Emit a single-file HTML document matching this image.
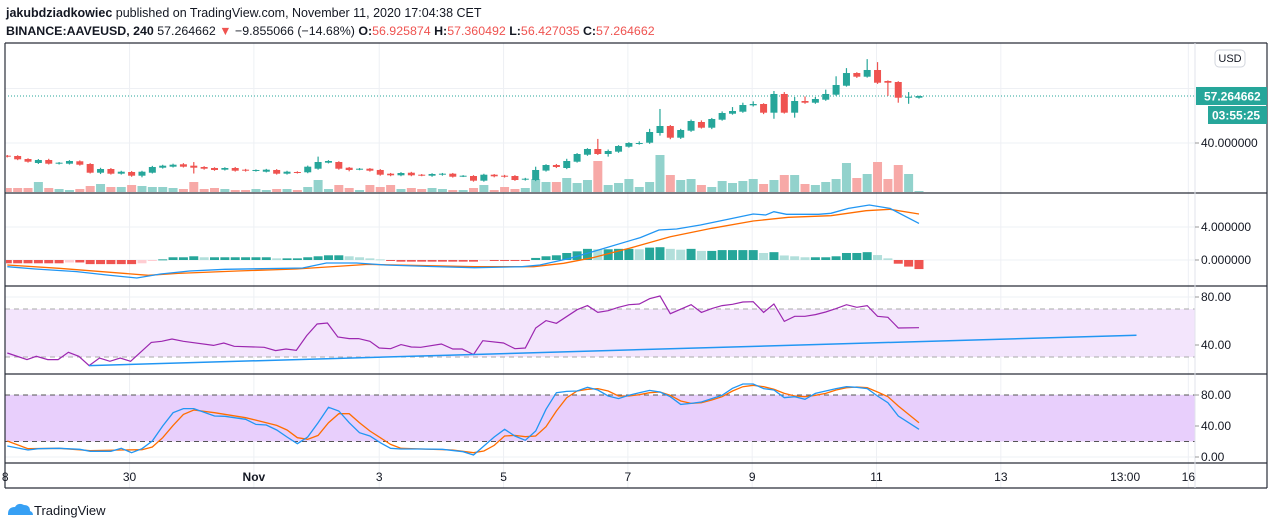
<!DOCTYPE html>
<html><head><meta charset="utf-8"><style>
html,body{margin:0;padding:0;background:#fff;width:1274px;height:529px;overflow:hidden}
svg{display:block;font-family:"Liberation Sans",sans-serif}
</style></head><body>
<svg id="chart" width="1274" height="529" viewBox="0 0 1274 529" xmlns="http://www.w3.org/2000/svg">
<defs><clipPath id="plotClip"><rect x="6" y="43" width="1189" height="420"/></clipPath></defs>
<text x="6" y="17" font-size="12.5" fill="#131722"><tspan font-weight="bold">jakubdziadkowiec</tspan> published on TradingView.com, November 11, 2020 17:04:38 CET</text>
<text x="6" y="35" font-size="12.4" fill="#131722"><tspan font-weight="bold">BINANCE:AAVEUSD, 240</tspan> 57.264662 <tspan fill="#ef5350">▼</tspan> −9.855066 (−14.68%) <tspan font-weight="bold">O:</tspan><tspan fill="#ef5350">56.925874</tspan> <tspan font-weight="bold">H:</tspan><tspan fill="#ef5350">57.360492</tspan> <tspan font-weight="bold">L:</tspan><tspan fill="#ef5350">56.427035</tspan> <tspan font-weight="bold">C:</tspan><tspan fill="#ef5350">57.264662</tspan></text>
<g id="grid"></g>
<g id="bands"></g>
<g id="marks" clip-path="url(#plotClip)"></g>
<g id="frame"></g>
<g id="axes"></g>
<g>
<path d="M8 514 q0-7 7-7 q3-5 9-2 q6 0 6 6 q3 1 3 4 l-25 0 z" fill="#2196f3" opacity="0.9"/>
<text x="34" y="515" font-size="13" fill="#131722">TradingView</text>
</g>
</svg>
<script>
// ===== data =====
const opens=[35.34,35.23,34.12,32.66,33.76,32.40,32.40,33.28,32.29,29.09,30.45,28.73,29.35,27.99,29.09,30.93,31.30,32.18,31.67,31.19,30.82,30.20,30.82,30.20,29.83,29.46,30.09,28.73,29.35,29.24,30.56,32.77,33.02,30.93,30.32,30.56,30.09,28.73,28.14,29.09,28.36,27.99,28.36,28.73,27.77,27.88,26.16,28.36,27.99,27.88,26.55,26.41,29.87,31.92,30.82,33.13,35.70,37.80,35.96,36.81,38.64,39.74,40.11,43.67,46.24,41.95,44.52,47.71,45.62,48.56,50.76,51.49,53.84,54.32,51.13,58.00,51.13,55.42,54.80,55.90,57.74,61.04,65.70,64.35,66.81,62.77,62.40,56.63,56.63];
const closes=[34.97,34.01,33.13,33.76,32.40,32.77,33.39,32.03,29.09,30.45,28.73,29.46,27.99,29.46,31.19,31.67,32.03,31.30,30.93,30.56,30.09,30.82,29.83,29.83,30.09,30.20,28.73,29.46,29.09,31.30,33.02,33.39,30.56,30.09,30.56,29.83,28.36,28.14,28.98,28.14,28.14,28.62,28.73,27.62,27.99,26.16,28.36,27.77,27.62,26.41,26.89,30.09,31.92,31.19,33.39,35.96,37.80,35.96,37.06,38.90,40.00,40.00,44.04,46.24,41.95,44.77,48.08,45.62,48.81,51.02,51.75,53.95,54.32,51.13,58.00,51.13,55.42,54.80,56.16,58.00,61.30,65.70,64.35,66.81,62.14,62.14,56.63,57.00,57.26];
const highs=[35.6,35.5,34.4,34.1,34.2,33.0,33.7,33.6,32.6,30.9,30.8,29.8,29.7,29.8,31.6,32.0,32.4,32.6,33.0,31.5,31.1,31.1,31.2,30.5,30.3,30.5,30.4,29.8,29.6,31.7,35.0,33.7,33.3,31.2,30.8,30.8,30.4,29.0,29.3,29.4,28.6,28.9,29.0,29.0,28.2,28.2,28.7,28.6,28.3,28.2,27.2,31.3,32.2,32.3,34.2,36.3,38.1,41.5,37.6,39.2,40.3,40.6,45.2,52.5,46.6,45.2,48.6,48.3,49.2,51.6,53.2,54.8,55.3,54.6,59.1,58.7,56.9,57.1,56.9,59.6,64.5,67.5,66.0,70.8,69.7,63.0,62.7,58.7,57.4];
const lows=[34.7,33.7,32.8,32.3,32.1,32.1,32.1,31.7,28.8,28.6,28.4,28.4,27.6,27.4,28.8,30.6,31.0,31.0,28.8,30.2,29.8,29.9,29.5,29.5,29.5,29.2,28.4,28.4,28.8,28.9,30.2,32.5,30.2,29.6,30.0,29.5,28.0,27.8,27.8,27.8,27.8,27.6,28.0,27.3,27.5,25.8,25.8,27.4,27.3,26.1,26.2,26.0,29.5,30.8,30.4,32.8,35.3,35.6,35.0,36.4,38.3,39.4,39.7,42.7,41.4,41.5,44.1,45.3,45.1,48.2,50.4,51.1,53.4,50.6,48.9,50.8,49.3,54.4,54.4,55.5,57.3,60.7,63.9,64.0,61.7,57.3,54.8,54.4,56.3];
const volumes=[4,4,4,10,4,3,2,3,6,8,5,5,7,6,5,5,4,3,10,3,4,3,2,2,3,2,3,3,2,5,12,3,7,4,2,7,5,7,3,4,3,4,3,2,2,4,7,2,5,3,4,13,10,10,14,9,12,31,7,9,13,5,10,37,17,12,13,7,5,11,9,11,13,8,12,17,17,8,7,10,13,29,14,18,30,13,27,18,1];
const macdIdx=[0,2.7,6.7,9.6,12.5,14.8,17.6,21,28.5,30.8,33.7,36.5,40.5,45.1,49.7,51.4,54.3,56.5,61.1,62.9,64.6,66.9,69.7,72,73.2,74,75.2,78.3,79.5,81.2,83.2,85.2,88];
const macdVal=[-0.81,-1.09,-1.41,-1.82,-2.18,-1.70,-1.33,-1.13,-0.97,-0.36,-0.36,-0.61,-0.77,-0.93,-0.81,-0.61,0.20,1.01,2.71,3.64,3.76,4.24,4.97,5.58,5.45,5.86,5.54,5.54,5.66,6.26,6.67,6.26,4.44];
const signalIdx=[0,5,13.6,16.5,22.2,27.9,34.8,39.4,45.1,50.8,53.7,56.5,60,64,68,72,75.4,79.5,82.9,85.2,88];
const signalVal=[-0.61,-1.01,-1.86,-1.62,-1.33,-1.09,-0.53,-0.65,-0.81,-0.81,-0.40,0.28,1.41,2.83,3.84,4.73,5.17,5.37,5.98,6.14,5.58];
const histVal=[-0.4,-0.4,-0.4,-0.4,-0.4,-0.4,-0.3,-0.3,-0.5,-0.5,-0.5,-0.5,-0.5,-0.4,-0.1,0.08,0.33,0.33,0.45,0.33,0.33,0.33,0.33,0.33,0.33,0.33,0.2,0.2,0.2,0.33,0.45,0.57,0.57,0.45,0.33,0.2,0.08,-0.1,-0.2,-0.2,-0.2,-0.2,-0.2,-0.2,-0.2,-0.2,-0.1,-0.1,-0.1,-0.1,-0.1,0.25,0.45,0.57,0.85,1.05,1.35,1.3,1.3,1.35,1.35,1.3,1.5,1.55,1.35,1.25,1.35,1.1,1.1,1.2,1.2,1.2,1.2,0.85,0.95,0.55,0.45,0.33,0.33,0.33,0.45,0.85,0.85,0.95,0.6,0.2,-0.45,-0.8,-1.1];
const rsiIdx=[0,1.9,2.8,3.9,4.9,5.9,6.9,7.9,8.9,9.9,10.9,11.9,13.9,14.9,15.9,17,19.9,20.9,21.9,24.8,25.9,26.9,27.9,28.9,29.9,30.9,31.9,33,33.9,35,35.9,37,38,39,39.9,41.9,43,43.9,45,45.9,47.9,49,50,51,52,53,55,56,57,58,59,60,61,62,63,64,66,67,68,69,70,71,72,73,74,75,76,77,78,79,80,81,82,83,84,85,86,88];
const rsiVal=[33.3,27.8,30.6,27.8,27.8,33.9,30.6,22.8,29.2,26.4,29.2,26.4,42.2,43.1,45.0,43.1,39.7,41.7,38.9,38.1,35.3,36.7,35.6,47.8,57.5,58.3,46.7,45.3,45.3,43.1,37.5,36.9,40.3,38.3,38.1,40.8,36.7,36.7,32.0,43.6,41.7,36.9,37.5,54.2,60.3,58.1,69.4,72.8,67.2,68.6,71.4,73.6,74.2,78.6,80.8,66.1,73.6,67.2,70.3,72.8,73.9,75.8,76.1,67.2,74.2,59.7,63.9,63.9,65.3,67.5,70.3,73.6,71.4,72.8,63.9,63.1,54.2,54.4];
const trendIdx=[7.9,109];
const trendVal=[22.8,48.1];
const kIdx=[0,2,3,5,7,8,10,11,12,13,14,15,16,17,18,20,21,23,24,25,26,27,28,29,30,31,32,33,34,35,36,37,38,40,42,44,45,46,47,48,49,50,51,52,53,54,55,56,57,58,59,60,61,62,63,64,65,66,67,68,69,70,71,72,73,74,75,76,77,78,79,80,81,82,83,84,85,86,88];
const kVal=[14.2,9.0,10.7,11.2,9.9,7.3,7.3,11.2,5.6,10.7,20.6,40.0,57.2,62.4,62.4,52.9,52.5,48.6,42.1,41.3,34.8,25.8,17.2,25.8,44.3,64.1,59.3,44.3,31.4,27.1,18.5,11.2,10.3,10.3,9.9,6.9,2.6,14.2,25.8,35.7,27.1,21.5,33.5,61.5,83.0,84.7,85.1,89.9,86.4,78.7,75.3,79.6,83.0,86.0,83.9,77.8,67.9,69.2,71.0,75.3,79.6,88.6,94.2,94.2,88.2,86.4,76.5,77.8,74.4,82.1,85.1,88.2,90.7,89.9,88.2,78.7,70.1,52.9,35.7];
const dIdx=[0,2,5,8,11,13,14,15,16,17,18,20,23,25,26,27,28,29,30,31,32,33,34,35,36,37,38,40,43,45,46,47,48,49,50,51,52,53,54,55,56,57,58,59,60,61,62,63,64,65,66,67,68,69,70,71,72,73,74,75,76,77,78,79,80,81,82,83,84,85,86,88];
const dVal=[20.6,10.7,11.2,8.2,9.0,9.4,12.9,24.9,40.8,55.0,60.6,57.2,50.7,44.3,40.8,34.8,24.9,22.8,27.9,44.3,55.9,55.9,44.3,33.5,24.9,16.3,11.2,10.3,9.0,5.6,7.7,15.0,27.1,27.9,26.2,27.1,39.1,59.3,76.5,85.1,87.3,88.2,85.1,78.7,78.7,80.4,83.0,83.9,79.6,72.2,69.2,70.1,73.5,77.8,85.1,90.7,92.5,90.7,87.3,82.1,78.7,77.8,79.6,82.1,86.4,89.4,90.3,89.4,83.9,77.8,65.8,44.3];
const dayLabels=["8","30","Nov","3","5","7","9","11","13","13:00","16"];
const dayLabelIdx=[-0.2,11.8,23.8,35.9,47.9,59.9,71.9,83.9,95.9,107.9,114];
const priceTicks=[40,60];
const macdTicks=[0,4];
const rsiTicks=[40,80];
const stochTicks=[0,40,80];
const lastPrice=57.264662;

// ===== scales =====
const X0=7.3, STEP=10.36;
const xs=i=>X0+i*STEP;
const yPrice=p=>143-(p-40)*2.723;
const yMacd=v=>260-v*8.25;
const yRsi=v=>345-(v-40)*1.2;
const yStoch=v=>457-v*0.775;
const yVolBase=192;

const NS="http://www.w3.org/2000/svg";
function mk(tag,parent,attrs){const e=document.createElementNS(NS,tag);for(const k in attrs)e.setAttribute(k,attrs[k]);parent.appendChild(e);return e;}
const grid=document.getElementById('grid'),bands=document.getElementById('bands'),marks=document.getElementById('marks'),frame=document.getElementById('frame'),axes=document.getElementById('axes');
const L=5,R=1195,RR=1267;

// grid lines
dayLabelIdx.forEach((d,k)=>{if(k===0||k===9)return;const gl=mk('line',grid,{x1:xs(d),x2:xs(d),y1:43,y2:488,stroke:'#eef0f4','stroke-width':1});

});
function hgrid(v,f){const gl=mk('line',grid,{x1:L,x2:R,y1:f(v),y2:f(v),stroke:'#eef0f4','stroke-width':1});

}
priceTicks.forEach(v=>hgrid(v,yPrice));macdTicks.forEach(v=>hgrid(v,yMacd));rsiTicks.forEach(v=>hgrid(v,yRsi));stochTicks.forEach(v=>hgrid(v,yStoch));

// bands
const rb=mk('rect',bands,{x:L,y:yRsi(70),width:R-L,height:yRsi(30)-yRsi(70),fill:'#f3e5fc'});


[70,30].forEach(v=>{const l=mk('line',bands,{x1:L,x2:R,y1:yRsi(v),y2:yRsi(v),stroke:'#aaa','stroke-dasharray':'5,4'});

});
const sb=mk('rect',bands,{x:L,y:yStoch(80),width:R-L,height:yStoch(20)-yStoch(80),fill:'#e8cffc'});


[80,20].forEach(v=>{const l=mk('line',bands,{x1:L,x2:R,y1:yStoch(v),y2:yStoch(v),stroke:'#555','stroke-dasharray':'5,4'});

});

// volume
volumes.forEach((v,i)=>{const up=closes[i]>=opens[i];const r=mk('rect',marks,{x:xs(i)-4.5,y:yVolBase-v,width:9,height:v,fill:up?'#92d2cc':'#f7a9a7'});

});
// last price line
const lp=mk('line',marks,{x1:L,x2:R,y1:yPrice(lastPrice),y2:yPrice(lastPrice),stroke:'#26a69a','stroke-dasharray':'1,2'});


// candles
opens.forEach((o,i)=>{const c=closes[i];const col=c>=o?'#26a69a':'#ef5350';const x=xs(i);
const w=mk('line',marks,{x1:x,x2:x,y1:yPrice(highs[i]),y2:yPrice(lows[i]),stroke:col,'stroke-width':1.2});


const top=yPrice(Math.max(o,c)),bot=yPrice(Math.min(o,c));
const b=mk('rect',marks,{x:x-3.5,y:top,width:7,height:Math.max(1,bot-top),fill:col});

});

// MACD histogram
histVal.forEach((v,i)=>{const prev=i>0?histVal[i-1]:v;let col;if(v>=0)col=v>=prev?'#26a69a':'#b2dfdb';else col=v<=prev?'#ef5350':'#ffcdd2';
const y0=yMacd(0),y1=yMacd(v);
const r=mk('rect',marks,{x:xs(i)-4.5,y:Math.min(y0,y1),width:9,height:Math.max(1,Math.abs(y1-y0)),fill:col});

});
function line(idx,val,f,col,name,w){const d=idx.map((i,k)=>(k?'L':'M')+xs(i).toFixed(1)+' '+f(val[k]).toFixed(1)).join(' ');
const p=mk('path',marks,{d:d,fill:'none',stroke:col,'stroke-width':w||1.3});

}
line(signalIdx,signalVal,yMacd,'#ff6d00','macd-signal-line');
line(macdIdx,macdVal,yMacd,'#2196f3','macd-line');
line(rsiIdx,rsiVal,yRsi,'#9c27b0','rsi-line',1.2);
line(trendIdx,trendVal,yRsi,'#2196f3','rsi-trendline',1.5);
line(dIdx,dVal,yStoch,'#ff6d00','stoch-d-line');
line(kIdx,kVal,yStoch,'#2196f3','stoch-k-line');

// frame
[[L,43,RR,43],[L,193,RR,193],[L,286,RR,286],[L,374,RR,374],[L,463,RR,463],[L,488,RR,488],[L,43,L,488],[RR,43,RR,488]].forEach(a=>{const l=mk('line',frame,{x1:a[0],y1:a[1],x2:a[2],y2:a[3],stroke:'#2a2e39','stroke-width':1.2});

});
const sep=mk('line',frame,{x1:R,y1:43,x2:R,y2:488,stroke:'#e0e3eb','stroke-width':1});



// axis labels
function ylab(txt,y,name){const t=mk('text',axes,{x:1201,y:y+4,'font-size':12,fill:'#131722'});t.textContent=txt;


const tk=mk('line',axes,{x1:R,x2:R+4,y1:y,y2:y,stroke:'#999'});

}
priceTicks.forEach(v=>{if(v!==60)ylab(v.toFixed(6),yPrice(v),'price-axis-label');});
macdTicks.forEach(v=>ylab(v.toFixed(6),yMacd(v),'macd-axis-label'));
rsiTicks.forEach(v=>ylab(v.toFixed(2),yRsi(v),'rsi-axis-label'));
stochTicks.forEach(v=>ylab(v.toFixed(2),yStoch(v),'stoch-axis-label'));
dayLabels.forEach((s,k)=>{const t=mk('text',axes,{x:xs(dayLabelIdx[k]),y:481,'font-size':12,fill:'#131722','text-anchor':'middle','font-weight':s==='Nov'?'bold':'normal'});t.textContent=s;

});
// USD button
const ub=mk('rect',axes,{x:1215,y:50,width:30,height:17,rx:4,fill:'#fff',stroke:'#d1d4dc'});


const ut=mk('text',axes,{x:1230,y:62,'font-size':11,fill:'#131722','text-anchor':'middle'});ut.textContent='USD';


// price tag
const pb=mk('rect',axes,{x:1196,y:yPrice(lastPrice)-9,width:71,height:18,fill:'#26a69a'});


const pt=mk('text',axes,{x:1204,y:yPrice(lastPrice)+4.5,'font-size':12,'font-weight':'bold',fill:'#fff'});pt.textContent=lastPrice.toFixed(6);


const cb=mk('rect',axes,{x:1208,y:yPrice(lastPrice)+10,width:59,height:18,fill:'#26a69a'});


const ct=mk('text',axes,{x:1212,y:yPrice(lastPrice)+23.5,'font-size':12,'font-weight':'bold',fill:'#fff'});ct.textContent='03:55:25';


</script>
</body></html>
